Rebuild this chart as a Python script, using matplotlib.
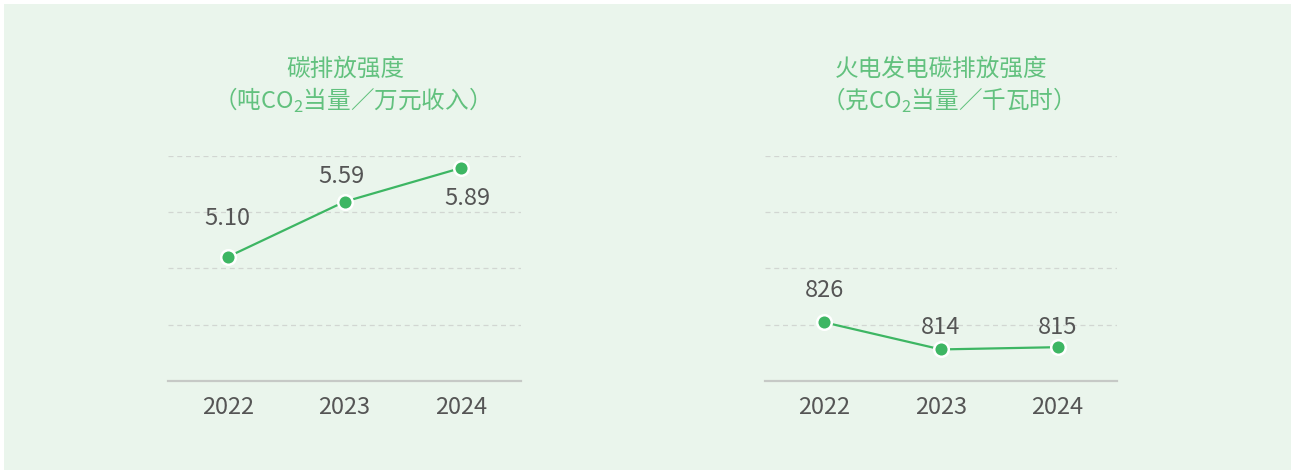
"""
碳排放强度 / 火电发电碳排放强度 折线图
"""

import matplotlib
matplotlib.use('Agg')
from matplotlib import pyplot as plt
from matplotlib import patches

plt.rcParams['font.family'] = ['Noto Sans CJK SC', 'DejaVu Sans']
plt.rcParams['mathtext.fontset'] = 'custom'
plt.rcParams['mathtext.rm'] = 'Noto Sans CJK SC'

years = ['2022', '2023', '2024']

carbon_intensity = [5.10, 5.59, 5.89]
carbon_labels = ['5.10', '5.59', '5.89']

thermal_intensity = [826, 814, 815]
thermal_labels = ['826', '814', '815']

titles_left = ['碳排放强度', '（吨CO$_2$当量／万元收入）']
titles_right = ['火电发电碳排放强度', '（克CO$_2$当量／千瓦时）']

BG = '#eaf5ec'
LINE = '#3db663'
TITLE = '#62c17e'
TEXT = '#555555'
GRID = '#d2d6d2'
BASE = '#c6c9c6'


def plot_line(ax, values, labels, ylim, yticks, offsets):
    x = list(range(len(values)))
    ax.set_facecolor('none')
    ax.plot(x, values, color=LINE, lw=1.6, marker='o', ms=10.5,
            markerfacecolor=LINE, markeredgecolor='white', markeredgewidth=1.8,
            zorder=3, clip_on=False)
    for i, (v, lab) in enumerate(zip(values, labels)):
        dx, dy = offsets[i]
        ax.annotate(lab, (i, v), xytext=(dx, dy), textcoords='offset points',
                    ha='center', va='center', fontsize=17, color=TEXT)

    ax.set_xlim(-0.51, len(values) - 1 + 0.51)
    ax.set_ylim(*ylim)
    ax.set_xticks(x, years)
    ax.set_yticks(yticks)
    ax.yaxis.grid(True, color=GRID, ls=(0, (4, 3)), lw=0.9)
    ax.tick_params(axis='y', left=False, labelleft=False)
    ax.tick_params(axis='x', length=0, labelsize=17, labelcolor=TEXT, pad=11)
    for s in ['top', 'left', 'right']:
        ax.spines[s].set_visible(False)
    ax.spines['bottom'].set_color(BASE)
    ax.spines['bottom'].set_linewidth(1.6)


def add_title(fig, xc, lines):
    fig.text(xc, 1 - 69 / 470, lines[0], ha='center', va='center',
             fontsize=17, color=TITLE)
    fig.text(xc, 1 - 100 / 470, lines[1], ha='center', va='center',
             fontsize=17, color=TITLE)


def main():
    W, H = 1291, 470
    fig = plt.figure(figsize=(W / 100, H / 100), dpi=100)
    fig.patch.set_facecolor('white')
    fig.patches.append(patches.Rectangle((4 / W, 0), 1 - 4 / W, 1 - 4 / H,
                                         transform=fig.transFigure,
                                         facecolor=BG, edgecolor='none', zorder=-5))

    ax1 = fig.add_axes([168 / W, 89 / H, 353 / W, 225.5 / H])
    ax2 = fig.add_axes([765 / W, 89 / H, 352 / W, 225.5 / H])

    plot_line(ax1, carbon_intensity, carbon_labels, (4.0, 6.0),
              [4.5, 5.0, 5.5, 6.0], [(0, 28), (-2.5, 18.5), (4, -22)])
    plot_line(ax2, thermal_intensity, thermal_labels, (800, 900),
              [825, 850, 875, 900], [(0, 23), (0, 15.5), (0, 14)])

    add_title(fig, 345 / W, titles_left)
    add_title(fig, 941 / W, titles_right)

    fig.savefig('out.png', dpi=100, facecolor=fig.get_facecolor())


if __name__ == '__main__':
    main()
